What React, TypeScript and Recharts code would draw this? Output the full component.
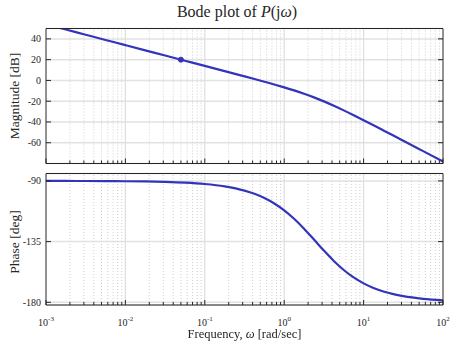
import { LineChart, Line, XAxis, YAxis, CartesianGrid, ReferenceLine, ReferenceDot } from 'recharts';

// frequency points (rad/sec), quarter decades with extra points around the corner
const freq = [
  0.001, 0.001778, 0.003162, 0.005623, 0.01, 0.01778, 0.03162, 0.05623, 0.1, 0.1778,
  0.3162, 0.4217, 0.5623, 0.7499, 1, 1.3335, 1.778, 2.371, 3.162, 4.217,
  5.623, 7.499, 10, 13.335, 17.78, 23.71, 31.62, 56.23, 100,
];
const magnitudeDb = [
  53.98, 48.98, 43.98, 38.98, 33.98, 28.98, 23.98, 18.98, 13.97, 8.96,
  3.91, 1.36, -1.24, -3.89, -6.67, -9.61, -12.8, -16.31, -20.17, -24.37,
  -28.84, -33.52, -38.32, -43.21, -48.15, -53.11, -58.09, -68.07, -78.06,
];
const phaseDeg = [
  -90.02, -90.04, -90.07, -90.13, -90.23, -90.41, -90.72, -91.29, -92.29, -94.07,
  -97.21, -99.58, -102.68, -106.7, -111.8, -118.07, -125.42, -133.49, -141.67, -149.34,
  -156.03, -161.57, -165.96, -169.38, -171.99, -173.98, -175.48, -177.45, -178.57,
];
const markerPoint = { w: 0.05, mag: 20 };

const majorFreqTicks = [0.001, 0.01, 0.1, 1, 10, 100];
const minorFreqTicks: number[] = [];
majorFreqTicks.slice(0, -1).forEach(d => {
  for (let m = 2; m <= 9; m++) minorFreqTicks.push(d * m);
});
const allFreqTicks = [...majorFreqTicks, ...minorFreqTicks].sort((a, b) => a - b);
const magTicks = [-60, -40, -20, 0, 20, 40];
const phaseTicks = [-180, -135, -90];

const data = freq.map((w, i) => ({ w, mag: magnitudeDb[i], phase: phaseDeg[i] }));

const ink = '#262626';
const blue = '#3333bb';
const font = '"Liberation Serif", "DejaVu Serif", serif';

const isMajor = (v: number) => majorFreqTicks.some(t => Math.abs(v - t) / t < 1e-6);

function BottomTick(props: any) {
  const { x, y, payload, showLabel } = props;
  const major = isMajor(payload.value);
  const exp = Math.round(Math.log10(payload.value));
  return (
    <g>
      <line x1={x} x2={x} y1={y} y2={y - (major ? 5 : 3)} stroke={ink} />
      {showLabel && major && (
        <text x={x} y={y + 21} textAnchor="middle" fontSize={10} fontFamily={font} fill={ink}>
          <tspan>10</tspan>
          <tspan dy={-5} fontSize={7}>{exp}</tspan>
        </text>
      )}
    </g>
  );
}

function TopTick(props: any) {
  const { x, y, payload } = props;
  const major = isMajor(payload.value);
  return <line x1={x} x2={x} y1={y} y2={y + (major ? 5 : 3)} stroke={ink} />;
}

function LeftTick(props: any) {
  const { x, y, payload } = props;
  return (
    <g>
      <line x1={x} x2={x + 5} y1={y} y2={y} stroke={ink} />
      <text x={x - 5} y={y} dy={3.5} textAnchor="end" fontSize={10} fontFamily={font} fill={ink}>
        {payload.value}
      </text>
    </g>
  );
}

function RightTick(props: any) {
  const { x, y } = props;
  return <line x1={x} x2={x - 5} y1={y} y2={y} stroke={ink} />;
}

function freqGrid() {
  return [
    ...minorFreqTicks.map(v => (
      <ReferenceLine key={'mi' + v} x={v} stroke="#cfcfcf" strokeDasharray="1 2" />
    )),
    ...majorFreqTicks.slice(1, -1).map(v => (
      <ReferenceLine key={'ma' + v} x={v} stroke="#dedede" strokeWidth={1.2} />
    )),
  ];
}

function freqAxes(showLabel: boolean, topH: number, bottomH: number) {
  return [
    <XAxis
      key="xb"
      dataKey="w"
      type="number"
      scale="log"
      domain={[0.001, 100]}
      allowDataOverflow
      ticks={allFreqTicks}
      interval={0}
      height={bottomH}
      tickSize={0}
      tickMargin={0}
      tickLine={false}
      axisLine={{ stroke: ink }}
      tick={<BottomTick showLabel={showLabel} />}
    />,
    <XAxis
      key="xt"
      xAxisId="t"
      orientation="top"
      type="number"
      scale="log"
      domain={[0.001, 100]}
      allowDataOverflow
      ticks={allFreqTicks}
      interval={0}
      height={topH}
      tickSize={0}
      tickMargin={0}
      tickLine={false}
      axisLine={{ stroke: ink }}
      tick={<TopTick />}
    />,
  ];
}

function sideAxes(domain: number[], ticks: number[]) {
  return [
    <YAxis
      key="yl"
      domain={domain}
      allowDataOverflow
      ticks={ticks}
      interval={0}
      width={46}
      tickSize={0}
      tickMargin={0}
      tickLine={false}
      axisLine={{ stroke: ink }}
      tick={<LeftTick />}
    />,
    <YAxis
      key="yr"
      yAxisId="r"
      orientation="right"
      domain={domain}
      allowDataOverflow
      ticks={ticks}
      interval={0}
      width={8}
      tickSize={0}
      tickMargin={0}
      tickLine={false}
      axisLine={{ stroke: ink }}
      tick={<RightTick />}
    />,
  ];
}

export default function App() {
  return (
    <div style={{ position: 'fixed', left: 0, top: 0, width: 451, height: 343, background: '#fff', fontFamily: font, color: ink }}>
      <div style={{ position: 'absolute', left: 0, width: 474, top: 3, textAlign: 'center', fontSize: 16 }}>
        Bode plot of <i>P</i>(j<i>ω</i>)
      </div>

      <div style={{ position: 'absolute', left: 0, top: 0 }}>
        <LineChart width={451} height={170} data={data} margin={{ top: 0, right: 0, bottom: 0, left: 0 }}>
          <CartesianGrid vertical={false} stroke="#e2e2e2" strokeWidth={1.5} />
          {freqGrid()}
          {freqAxes(false, 28.5, 6.5)}
          {sideAxes([-80, 50], magTicks)}
          <Line type="monotone" dataKey="mag" stroke={blue} strokeWidth={2.2} dot={false} isAnimationActive={false} />
          <ReferenceDot x={markerPoint.w} y={markerPoint.mag} r={2.5} fill={blue} stroke={blue} />
        </LineChart>
      </div>

      <div style={{ position: 'absolute', left: 0, top: 170 }}>
        <LineChart width={451} height={173} data={data} margin={{ top: 0, right: 0, bottom: 0, left: 0 }}>
          <CartesianGrid vertical={false} stroke="#e2e2e2" strokeWidth={1.5} />
          {freqGrid()}
          {freqAxes(true, 3.5, 38)}
          {sideAxes([-182, -84.5], phaseTicks)}
          <Line type="monotone" dataKey="phase" stroke={blue} strokeWidth={2.2} dot={false} isAnimationActive={false} />
        </LineChart>
      </div>

      <div style={{ position: 'absolute', left: 15, top: 96, transform: 'translate(-50%, -50%) rotate(-90deg)', whiteSpace: 'nowrap', fontSize: 13.5 }}>
        Magnitude [dB]
      </div>
      <div style={{ position: 'absolute', left: 15, top: 242, transform: 'translate(-50%, -50%) rotate(-90deg)', whiteSpace: 'nowrap', fontSize: 13.5 }}>
        Phase [deg]
      </div>
      <div style={{ position: 'absolute', left: 0, width: 489, top: 327, textAlign: 'center', fontSize: 12.5 }}>
        Frequency, <i>ω</i> [rad/sec]
      </div>
    </div>
  );
}
